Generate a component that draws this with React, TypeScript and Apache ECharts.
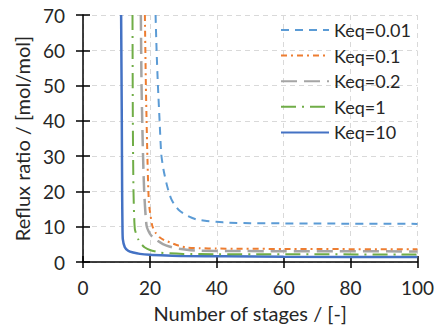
import React, { useEffect, useRef } from "react";
import * as echarts from "echarts";

const seriesNames = ["Keq=0.01", "Keq=0.1", "Keq=0.2", "Keq=1", "Keq=10"];
const keq001: [number, number][] = [[21.7,70],[22,60],[22.4,50],[22.9,40],[23.4,30.5],[24.1,26],[24.9,22.5],[25.6,20],[26.4,17.8],[27.5,16],[28.9,14.5],[31,13.2],[33.8,12.1],[36.5,11.7],[39.8,11.4],[43.8,11.1],[50,11],[70,10.9],[100,10.8]];
const keq01: [number, number][] = [[18.5,70],[18.8,50],[19.2,32],[19.7,16.9],[20.7,10.3],[21.7,8.3],[22.9,7],[24.3,6.2],[25.9,5.6],[28,4.8],[30.9,4.1],[35,3.9],[39.8,3.8],[60,3.7],[100,3.6]];
const keq02: [number, number][] = [[17.3,70],[17.5,50],[17.9,32],[18.3,19.8],[19,10.3],[20,8],[20.9,7],[22.3,6],[23.9,5.1],[25.8,4.4],[27.9,3.9],[31,3.5],[34.8,3.2],[45,3.1],[100,3.0]];
const keq1: [number, number][] = [[14.8,70],[14.9,40],[15.1,20],[15.5,9.3],[16.5,6.5],[17.5,5],[18.5,4.1],[20,3.4],[22.9,2.7],[26,2.45],[30,2.3],[40,2.2],[100,2.15]];
const keq10: [number, number][] = [[11.4,70],[11.6,40],[11.7,20],[11.8,10],[11.9,6.5],[12.5,4.2],[13.5,3.2],[15,2.7],[17,2.3],[20,2.05],[25,1.85],[30,1.7],[43,1.6],[60,1.5],[100,1.4]];
const allData = [keq001, keq01, keq02, keq1, keq10];
const colors = ["#5B9BD5", "#ED7D31", "#A5A5A5", "#70AD47", "#4472C4"];
const dashes: any[] = [[8, 6], [6, 4, 2, 4], [16, 7], [15, 6, 2, 6], "solid"];
const widths = [2, 2, 2.5, 2, 2.5];

const FONT = "Lato";

export default function App() {
  const ref = useRef<HTMLDivElement>(null);
  useEffect(() => {
    const chart = echarts.init(ref.current!, undefined, { renderer: "svg" });
    const axisText = { color: "#262626", fontSize: 19, fontFamily: FONT };
    chart.setOption({
      animation: false,
      grid: { left: 83, right: 18, top: 15, bottom: 65, containLabel: false },
      legend: {
        orient: "vertical",
        left: 280,
        top: 21,
        padding: 0,
        itemWidth: 48,
        itemHeight: 18,
        itemGap: 7.6,
        itemStyle: { opacity: 0 },
        textStyle: { color: "#262626", fontSize: 18, fontFamily: FONT },
        data: seriesNames,
      },
      xAxis: [
        {
          type: "value", min: 0, max: 100, interval: 20,
          name: "Number of stages / [-]", nameLocation: "middle", nameGap: 41,
          nameTextStyle: { ...axisText, fontSize: 20 },
          axisLine: { show: true, onZero: false, lineStyle: { color: "#000", width: 1.5 } },
          axisTick: { show: true, length: 6, lineStyle: { color: "#000", width: 1.5 } },
          axisLabel: { ...axisText, margin: 16 },
          splitLine: { show: true, lineStyle: { color: "#D9D9D9", type: [5, 4], width: 1 } },
        },
        {
          type: "value", min: 0, max: 100, interval: 20, position: "bottom",
          axisLine: { show: false },
          axisTick: { show: true, inside: true, length: 6, lineStyle: { color: "#000", width: 1.5 } },
          axisLabel: { show: false }, splitLine: { show: false },
        },
      ],
      yAxis: [
        {
          type: "value", min: 0, max: 70, interval: 10,
          name: "Reflux ratio / [mol/mol]", nameLocation: "middle", nameGap: 51, nameRotate: 90,
          nameTextStyle: { ...axisText, fontSize: 20 },
          axisLine: { show: true, onZero: false, lineStyle: { color: "#000", width: 1.5 } },
          axisTick: { show: true, length: 7, lineStyle: { color: "#000", width: 1.5 } },
          axisLabel: { ...axisText, margin: 18 },
          splitLine: { show: true, lineStyle: { color: "#D9D9D9", type: [5, 4], width: 1 } },
        },
        {
          type: "value", min: 0, max: 70, interval: 10, position: "left",
          axisLine: { show: false },
          axisTick: { show: true, inside: true, length: 7, lineStyle: { color: "#000", width: 1.5 } },
          axisLabel: { show: false }, splitLine: { show: false },
        },
      ],
      series: allData.map((d, i) => ({
        name: seriesNames[i],
        type: "line",
        data: d,
        smooth: 0.2,
        showSymbol: false,
        symbol: "none",
        color: colors[i],
        lineStyle: { color: colors[i], width: widths[i], type: dashes[i] },
        z: 10 - i,
      })),
    });
    return () => chart.dispose();
  }, []);
  return <div ref={ref} style={{ width: 437, height: 328, position: "absolute", left: 0, top: 0 }} />;
}
